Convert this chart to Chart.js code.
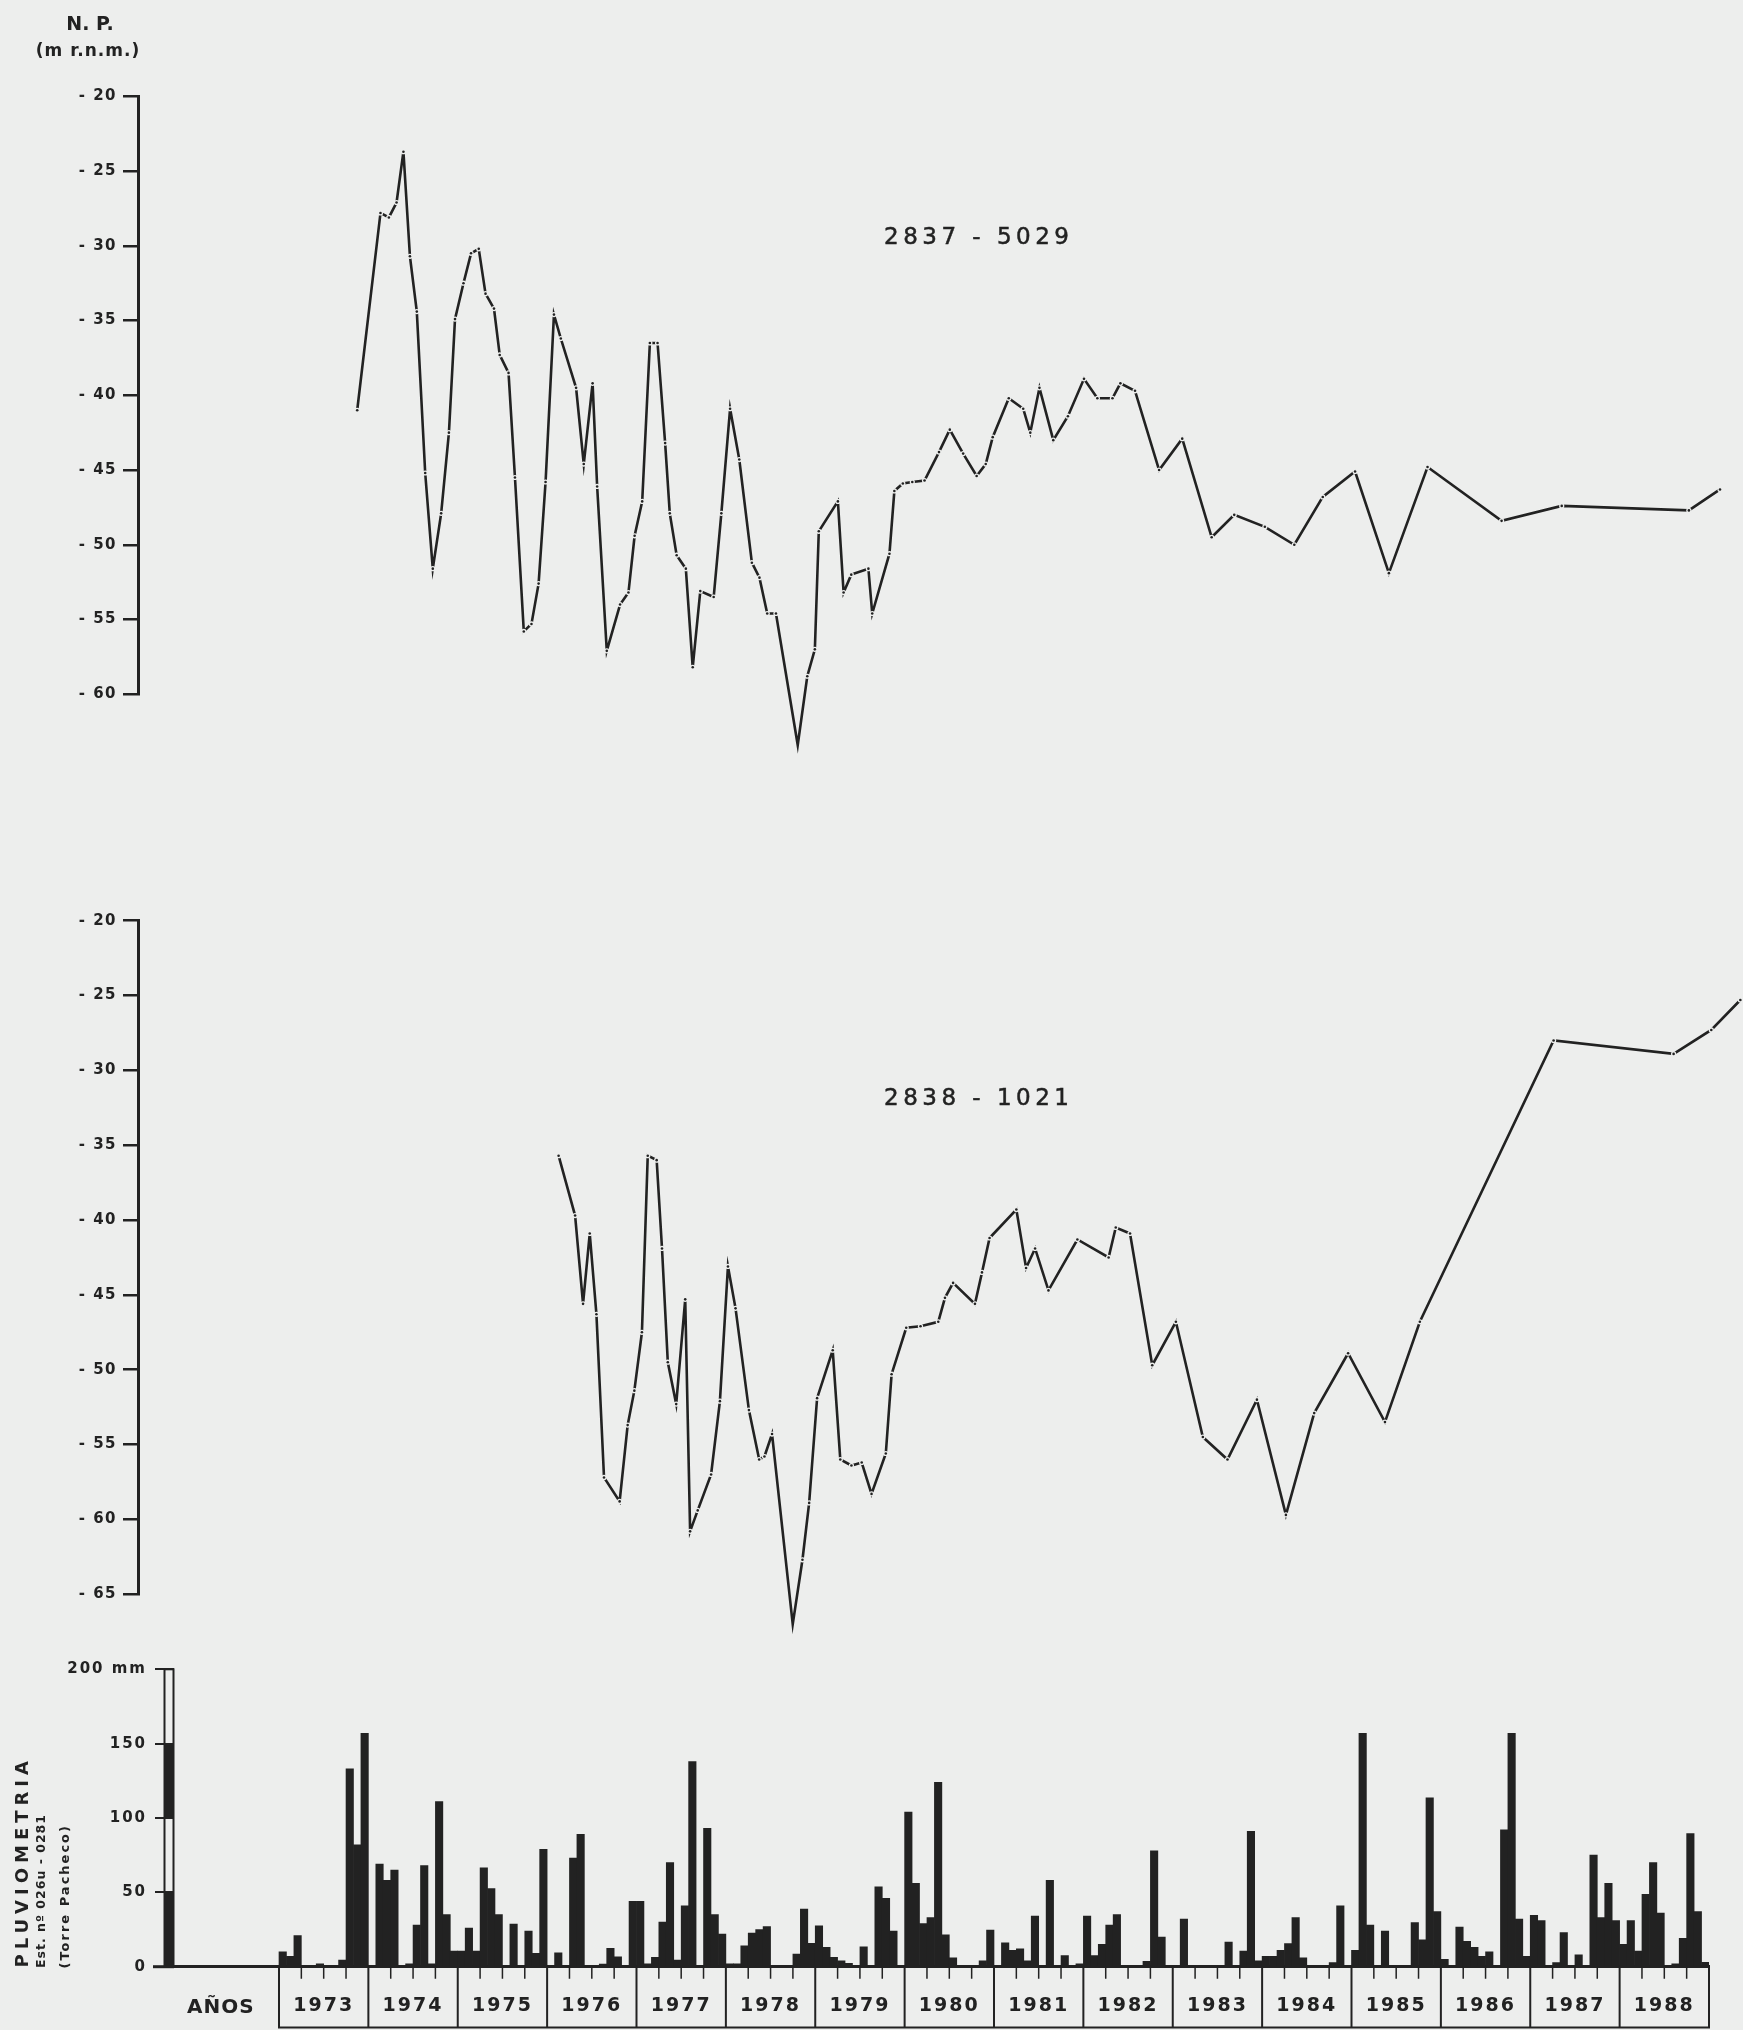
<!DOCTYPE html>
<html lang="es">
<head>
<meta charset="utf-8">
<title>Evolución piezométrica 2837-5029 y 2838-1021 – Pluviometría Torre Pacheco</title>
<script src="https://cdn.jsdelivr.net/npm/chart.js@4.4.1/dist/chart.umd.min.js"></script>
<style>
  html, body { margin: 0; padding: 0; background: #edeeed; }
  #hoja { position: relative; width: 1743px; height: 2030px; overflow: hidden; background: #edeeed; }
  #hoja canvas { position: absolute; left: 0; }
  #g5029 { top: 0; }
  #g1021 { top: 860px; }
  #gLluvia { top: 1640px; }
  .txt { position: absolute; color: #222; font-family: 'DejaVu Sans', sans-serif; white-space: nowrap; }
  #np { left: 30px; width: 120px; top: 13px; text-align: center; font-weight: bold; font-size: 19px; line-height: 20px; }
  #unidad { left: 28px; width: 120px; top: 40px; text-align: center; font-weight: bold; font-size: 17px; line-height: 20px; letter-spacing: 1px; }
  .pozo { font-size: 23px; line-height: 28px; letter-spacing: 4.5px; -webkit-text-stroke: 0.5px #222; }
  #p5029 { left: 884px; top: 222px; }
  #p1021 { left: 884px; top: 1083px; }
  #anos { left: 187px; top: 1994px; font-weight: bold; font-size: 20px; line-height: 24px; letter-spacing: 1px; }
  .vert { writing-mode: vertical-rl; transform: rotate(180deg); bottom: 62px; font-weight: bold; }
  #pluvio { left: 12px; font-size: 18px; line-height: 20px; letter-spacing: 5px; }
  #estacion { left: 34px; font-size: 12.5px; line-height: 14px; letter-spacing: 1px; }
  #lugar { left: 57px; font-size: 13px; line-height: 16px; letter-spacing: 2px; }
</style>
</head>
<body>
<div id="hoja">
  <canvas id="g5029" width="1743" height="820"></canvas>
  <canvas id="g1021" width="1743" height="790"></canvas>
  <canvas id="gLluvia" width="1743" height="390"></canvas>

  <div class="txt" id="np">N. P.</div>
  <div class="txt" id="unidad">(m r.n.m.)</div>
  <div class="txt pozo" id="p5029">2837 - 5029</div>
  <div class="txt pozo" id="p1021">2838 - 1021</div>
  <div class="txt" id="anos">AÑOS</div>
  <div class="txt vert" id="pluvio">PLUVIOMETRIA</div>
  <div class="txt vert" id="estacion">Est. nº 026u - 0281</div>
  <div class="txt vert" id="lugar">(Torre Pacheco)</div>
</div>

<script>
'use strict';

// ── Pozo 2837-5029: fecha (año decimal) y nivel piezométrico (m) ──
const fechas5029 = [
  1973.879, 1974.140, 1974.234, 1974.320, 1974.397, 1974.470, 1974.547, 1974.641, 1974.726, 1974.820,
  1974.907, 1974.975, 1975.070, 1975.155, 1975.241, 1975.317, 1975.412, 1975.476, 1975.575, 1975.647,
  1975.746, 1975.832, 1975.912, 1975.990, 1976.084, 1976.161, 1976.332, 1976.418, 1976.517, 1976.568,
  1976.676, 1976.825, 1976.919, 1976.988, 1977.073, 1977.159, 1977.245, 1977.330, 1977.382, 1977.459,
  1977.562, 1977.639, 1977.724, 1977.874, 1977.960, 1978.058, 1978.161, 1978.302, 1978.387, 1978.474,
  1978.572, 1978.816, 1978.923, 1979.008, 1979.052, 1979.266, 1979.330, 1979.416, 1979.608, 1979.651,
  1979.844, 1979.899, 1979.994, 1980.100, 1980.237, 1980.399, 1980.520, 1980.670, 1980.821, 1980.923,
  1981.001, 1981.181, 1981.343, 1981.422, 1981.525, 1981.680, 1981.844, 1982.024, 1982.174, 1982.343,
  1982.432, 1982.596, 1982.866, 1983.125, 1983.455, 1983.708, 1984.051, 1984.381, 1984.700, 1985.062,
  1985.441, 1985.874, 1986.704, 1987.378, 1988.803, 1989.152
];
const nivel5029 = [
  -41.0, -27.8, -28.1, -27.1, -23.7, -30.7, -34.4, -45.2, -51.6, -47.9,
  -42.5, -34.9, -32.5, -30.5, -30.2, -33.2, -34.2, -37.3, -38.5, -45.5,
  -55.8, -55.3, -52.6, -45.8, -34.6, -36.2, -39.5, -44.6, -39.2, -46.1,
  -57.1, -54.0, -53.2, -49.4, -47.1, -36.5, -36.5, -43.2, -47.9, -50.7,
  -51.6, -58.2, -53.1, -53.5, -47.9, -40.9, -44.3, -51.2, -52.2, -54.6,
  -54.6, -63.4, -58.8, -57.0, -49.1, -47.1, -53.2, -52.0, -51.6, -54.6,
  -50.6, -46.4, -45.9, -45.8, -45.7, -43.8, -42.3, -43.9, -45.4, -44.6,
  -42.8, -40.2, -40.9, -42.5, -39.5, -43.0, -41.4, -38.9, -40.2, -40.2,
  -39.2, -39.7, -45.0, -42.9, -49.5, -48.0, -48.8, -50.0, -46.8, -45.1,
  -51.9, -44.8, -48.4, -47.4, -47.7, -46.3
];

// ── Pozo 2838-1021 ──
const fechas1021 = [
  1976.136, 1976.321, 1976.410, 1976.485, 1976.560, 1976.645, 1976.820, 1976.910, 1976.985, 1977.070,
  1977.135, 1977.235, 1977.295, 1977.360, 1977.454, 1977.555, 1977.610, 1977.695, 1977.845, 1977.944,
  1978.034, 1978.119, 1978.269, 1978.384, 1978.443, 1978.528, 1978.760, 1978.869, 1978.944, 1979.033,
  1979.208, 1979.293, 1979.418, 1979.533, 1979.643, 1979.803, 1979.868, 1980.032, 1980.192, 1980.391,
  1980.466, 1980.557, 1980.802, 1980.881, 1980.966, 1981.266, 1981.375, 1981.476, 1981.626, 1981.950,
  1982.300, 1982.380, 1982.540, 1982.789, 1983.054, 1983.356, 1983.632, 1983.962, 1984.287, 1984.604,
  1984.984, 1985.397, 1985.788, 1987.287, 1988.632, 1989.054, 1989.380
];
const nivel1021 = [
  -35.7, -39.7, -45.6, -40.9, -46.3, -57.2, -58.8, -53.7, -51.4, -47.5,
  -35.7, -36.0, -41.9, -49.5, -52.3, -45.3, -60.8, -59.4, -57.0, -52.1,
  -43.1, -45.9, -52.7, -56.0, -55.8, -54.3, -67.0, -62.7, -58.9, -51.9,
  -48.7, -56.0, -56.4, -56.2, -58.3, -55.6, -50.3, -47.2, -47.1, -46.8,
  -45.2, -44.2, -45.6, -43.5, -41.2, -39.3, -43.2, -41.9, -44.7, -41.3,
  -42.5, -40.5, -40.9, -49.7, -46.8, -54.5, -56.0, -52.0, -59.7, -52.9,
  -48.9, -53.5, -46.8, -28.0, -28.9, -27.3, -25.3
];

// ── Pluviometría mensual (mm), enero 1973 – diciembre 1988 ──
const anos = [1973, 1974, 1975, 1976, 1977, 1978, 1979, 1980, 1981, 1982, 1983, 1984, 1985, 1986, 1987, 1988];
const lluviaMensual = [
  10, 7, 21, 0, 0, 2, 0, 0, 4.5, 133, 82, 157,            // 1973
  0, 69, 58, 65, 0, 2, 28, 68, 2, 111, 35, 10.5,          // 1974
  10.5, 26, 10.5, 66.5, 52.6, 35, 0, 28.7, 0, 24, 9, 79,  // 1975
  0, 9.4, 0, 73, 89, 0, 0, 1.8, 12.3, 6.7, 0, 44,         // 1976
  44, 2, 6.3, 30, 70, 4.5, 41, 138, 0, 93, 35, 22,        // 1977
  2, 2, 14, 22.6, 25, 27, 0, 0, 0, 8.5, 38.7, 15.7,       // 1978
  27.5, 13, 6.3, 4, 2.2, 0.5, 13.4, 0, 53.7, 46, 24, 0,   // 1979
  104, 56, 29, 33, 124, 21.5, 6, 0, 0, 0, 4, 24.6,        // 1980
  0, 16, 11, 12, 4, 34, 0, 58, 0, 7.4, 0, 2,              // 1981
  34, 7.4, 15, 28, 35, 0, 0, 0, 3.6, 78, 20, 0,           // 1982
  0, 32, 0, 0, 0, 0, 0, 16.6, 0, 10.5, 91, 4,             // 1983
  7, 7, 11, 15.5, 33, 6, 0, 0, 0, 2.7, 41, 0,             // 1984
  11, 157, 28, 0, 24, 0, 0, 0, 29.6, 18, 113.5, 37,       // 1985
  5, 1, 26.7, 17, 13, 7, 10, 0, 92, 157, 32, 7,           // 1986
  34.5, 31, 0, 2.7, 23, 0, 8, 0, 75, 33, 56, 31,          // 1987
  15, 31, 10.5, 48.6, 70, 36, 0, 2, 19, 89.6, 37, 3       // 1988
];

// marcas de los ejes
const ticks5029 = [-20, -25, -30, -35, -40, -45, -50, -55, -60];
const ticks1021 = [-20, -25, -30, -35, -40, -45, -50, -55, -60, -65];
const ticksLluvia = [0, 50, 100, 150, 200];

const TINTA = '#222222';
const FONDO = '#edeeed';
const FUENTE = "'DejaVu Sans', sans-serif";

// rango común del eje temporal (año decimal)
const X_MIN_NIVEL = 1971.4224;
const X_MAX_NIVEL = 1989.3804;
const X_MIN_LLUVIA = 1971.8252;

// el rotulado original tiene las letras muy espaciadas
const espaciado = {
  id: 'espaciado',
  beforeDraw(chart, args, opts) {
    chart.ctx.letterSpacing = opts.px || '0px';
  }
};

function serie(fechas, niveles) {
  return fechas.map((f, i) => ({ x: f, y: niveles[i] }));
}

function graficoNivel(id, fechas, niveles, marcas, padTop, padBottom) {
  const puntos = serie(fechas, niveles);
  return new Chart(document.getElementById(id), {
    type: 'line',
    data: {
      datasets: [
        { data: puntos, showLine: false, pointRadius: 1.3, pointHoverRadius: 0,
          pointBackgroundColor: TINTA, pointBorderWidth: 0, order: 0, clip: false },
        { data: puntos, borderColor: TINTA, borderWidth: 2.6, tension: 0,
          pointRadius: 2.6, pointHoverRadius: 0, pointBackgroundColor: FONDO,
          pointBorderWidth: 0, order: 1, clip: false }
      ]
    },
    options: {
      responsive: false,
      animation: false,
      events: [],
      layout: { padding: { top: padTop, bottom: padBottom, left: 0, right: 0 } },
      plugins: { legend: { display: false }, tooltip: { enabled: false }, espaciado: { px: '1.5px' } },
      scales: {
        x: { type: 'linear', display: false, min: X_MIN_NIVEL, max: X_MAX_NIVEL },
        y: {
          type: 'linear',
          min: marcas[marcas.length - 1],
          max: marcas[0],
          afterFit: s => { s.width = 138; },
          afterBuildTicks: s => { s.ticks = marcas.map(v => ({ value: v })); },
          border: { display: true, color: TINTA, width: 3 },
          grid: { drawOnChartArea: false, drawTicks: true, tickLength: 15, color: TINTA, lineWidth: 2.5 },
          ticks: {
            color: TINTA, padding: 6,
            font: { family: FUENTE, size: 15, weight: 'bold' },
            callback: v => '- ' + Math.abs(v)
          }
        }
      }
    },
    plugins: [espaciado]
  });
}

// cajas de años, marcas trimestrales y regla de 50 en 50 mm
const marcoAnos = {
  id: 'marcoAnos',
  afterDraw(chart) {
    const { ctx, chartArea, scales: { x, y } } = chart;
    const base = y.getPixelForValue(0);
    const fondo = chart.height - 2.5;
    const ultimo = anos[anos.length - 1] + 1;

    ctx.save();
    ctx.strokeStyle = TINTA;
    ctx.fillStyle = TINTA;

    // prolongación de la línea base hacia las marcas del eje
    ctx.lineWidth = 3;
    ctx.beginPath();
    ctx.moveTo(chartArea.left - 21, base);
    ctx.lineTo(chartArea.left, base);
    ctx.stroke();

    // separadores de año
    ctx.lineWidth = 2;
    ctx.beginPath();
    anos.concat([ultimo]).forEach(a => {
      const px = x.getPixelForValue(a);
      ctx.moveTo(px, base);
      ctx.lineTo(px, fondo);
    });
    ctx.moveTo(x.getPixelForValue(anos[0]) - 1, fondo);
    ctx.lineTo(x.getPixelForValue(ultimo) + 1, fondo);
    ctx.stroke();

    // trimestres
    ctx.lineWidth = 1.5;
    ctx.beginPath();
    anos.forEach(a => {
      [0.25, 0.5, 0.75].forEach(q => {
        const px = x.getPixelForValue(a + q);
        ctx.moveTo(px, base);
        ctx.lineTo(px, base + 12);
      });
    });
    ctx.stroke();

    // regla vertical alternando tramos llenos y vacíos
    const x0 = chartArea.left - 9.5;
    const ancho = 9;
    [[0, 50], [100, 150]].forEach(([a, b]) => {
      const yb = y.getPixelForValue(b);
      ctx.fillRect(x0, yb, ancho, y.getPixelForValue(a) - yb);
    });
    ctx.lineWidth = 2;
    const ytop = y.getPixelForValue(200);
    ctx.strokeRect(x0, ytop, ancho, base - ytop);
    ctx.restore();
  }
};

graficoNivel('g5029', fechas5029, nivel5029, ticks5029, 96.4, 125.8);
graficoNivel('g1021', fechas1021, nivel1021, ticks1021, 60.7, 55.8);

new Chart(document.getElementById('gLluvia'), {
  type: 'bar',
  data: {
    datasets: [{
      data: lluviaMensual.map((v, i) => ({ x: anos[0] + (i + 0.5) / 12, y: v })),
      backgroundColor: TINTA,
      borderWidth: 0,
      barPercentage: 1,
      categoryPercentage: 1
    }]
  },
  options: {
    responsive: false,
    animation: false,
    events: [],
    layout: { padding: { top: 29.3, bottom: 0, left: 0, right: 34 } },
    plugins: { legend: { display: false }, tooltip: { enabled: false }, espaciado: { px: '2px' } },
    scales: {
      x: {
        type: 'linear',
        offset: false,
        min: X_MIN_LLUVIA,
        max: anos[anos.length - 1] + 1,
        afterFit: s => { s.height = 63.3; },
        afterBuildTicks: s => { s.ticks = anos.map(a => ({ value: a + 0.5 })); },
        border: { display: true, color: TINTA, width: 3 },
        grid: { display: true, offset: false, drawOnChartArea: false, drawTicks: false },
        ticks: {
          autoSkip: false, maxRotation: 0, minRotation: 0, padding: 28,
          color: TINTA,
          font: { family: FUENTE, size: 19, weight: 'bold' },
          callback: (v, i) => String(anos[i])
        }
      },
      y: {
        type: 'linear',
        min: 0,
        max: 200,
        afterFit: s => { s.width = 174; },
        afterBuildTicks: s => { s.ticks = ticksLluvia.map(v => ({ value: v })); },
        border: { display: false },
        grid: { drawOnChartArea: false, drawTicks: true, tickLength: 19, color: TINTA, lineWidth: 2 },
        ticks: {
          color: TINTA, padding: 8,
          font: { family: FUENTE, size: 15, weight: 'bold' },
          callback: v => (v === 200 ? '200 mm' : String(v))
        }
      }
    }
  },
  plugins: [espaciado, marcoAnos]
});
</script>
</body>
</html>
